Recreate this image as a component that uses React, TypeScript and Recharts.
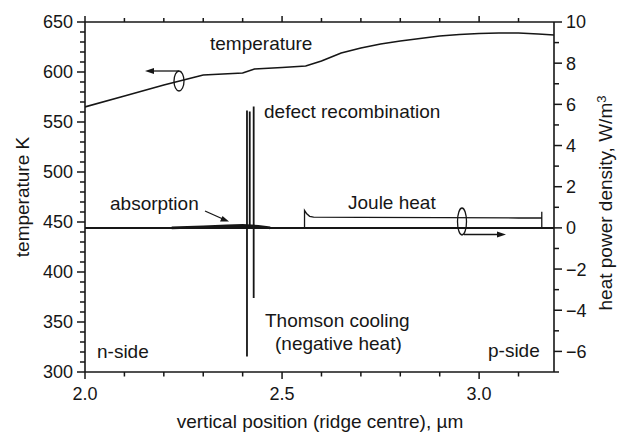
import React from 'react';
import { ComposedChart, Line, XAxis, YAxis } from 'recharts';

// ---- data ----
const positionT = [2.0, 2.1, 2.2, 2.28, 2.3, 2.4, 2.43, 2.5, 2.56, 2.6, 2.65, 2.7, 2.75, 2.8, 2.85, 2.9, 2.95, 3.0, 3.05, 3.1, 3.15, 3.19];
const temperatureK = [565, 576, 587, 595, 597, 599, 603, 604.5, 606, 611, 619, 624, 628, 631, 633.5, 636, 637.5, 638.5, 639, 639, 638, 637];

const positionBase = [2.0, 3.19];
const heatBase = [0, 0];

const positionAbsorption = [2.22, 2.3, 2.36, 2.4, 2.44, 2.47];
const absorptionHeat = [0, 0.05, 0.1, 0.12, 0.08, 0];

const positionDefect = [2.411, 2.411, 2.411, 2.418, 2.418, 2.418, 2.428, 2.428, 2.428];
const defectHeat = [0, 5.7, 0, 0, 5.65, 0, 0, 5.9, 0];

const positionThomson = [2.411, 2.411, 2.411, 2.428, 2.428, 2.428];
const thomsonHeat = [0, -6.25, 0, 0, -3.4, 0];

const positionJoule = [2.557, 2.557, 2.562, 2.57, 2.58, 2.7, 2.9, 3.1, 3.159, 3.159, 3.159];
const jouleHeat = [0, 0.85, 0.7, 0.56, 0.52, 0.51, 0.5, 0.48, 0.48, 0.78, 0];

const xTicks = [2.0, 2.1, 2.2, 2.3, 2.4, 2.5, 2.6, 2.7, 2.8, 2.9, 3.0, 3.1];
const xMajorTicks = [2.0, 2.5, 3.0];
const leftTicks = [300, 310, 320, 330, 340, 350, 360, 370, 380, 390, 400, 410, 420, 430, 440, 450, 460, 470, 480, 490, 500, 510, 520, 530, 540, 550, 560, 570, 580, 590, 600, 610, 620, 630, 640, 650];
const leftMajorTicks = [300, 350, 400, 450, 500, 550, 600, 650];
const rightTicks = [-7, -6, -5, -4, -3, -2, -1, 0, 1, 2, 3, 4, 5, 6, 7, 8, 9, 10];
const rightMajorTicks = [-6, -4, -2, 0, 2, 4, 6, 8, 10];

const zip = (xs: number[], ys: number[]) => xs.map((x, i) => ({ x, y: ys[i] }));

const tempData = zip(positionT, temperatureK);
const baseData = zip(positionBase, heatBase);
const absData = zip(positionAbsorption, absorptionHeat);
const defectData = zip(positionDefect, defectHeat);
const thomsonData = zip(positionThomson, thomsonHeat);
const jouleData = zip(positionJoule, jouleHeat);

const FONT = '"Liberation Sans", Arial, Helvetica, sans-serif';
const INK = '#161616';
const TW = 1.5;

const isMajor = (list: number[], v: number) => list.some((m) => Math.abs(m - v) < 1e-6);

const BottomTick = (props: any) => {
  const { x, y, payload } = props;
  const v = payload.value;
  const major = isMajor(xMajorTicks, v);
  return (
    <g>
      <line x1={x} x2={x} y1={y} y2={y + (major ? 7 : 4.5)} stroke={INK} strokeWidth={TW} />
      {major && (
        <text x={x} y={y + 28} textAnchor="middle" fontFamily={FONT} fontSize={18} fill={INK}>
          {v.toFixed(1)}
        </text>
      )}
    </g>
  );
};

const TopTick = (props: any) => {
  const { x, y, payload } = props;
  const major = isMajor(xMajorTicks, payload.value);
  return <line x1={x} x2={x} y1={y} y2={y - (major ? 6 : 4)} stroke={INK} strokeWidth={TW} />;
};

const LeftTick = (props: any) => {
  const { x, y, payload } = props;
  const v = payload.value;
  const major = isMajor(leftMajorTicks, v);
  return (
    <g>
      <line x1={x - (major ? 8 : 5)} x2={x} y1={y} y2={y} stroke={INK} strokeWidth={TW} />
      {major && (
        <text x={x - 12} y={y} dy="0.36em" textAnchor="end" fontFamily={FONT} fontSize={18} fill={INK}>
          {v}
        </text>
      )}
    </g>
  );
};

const RightTick = (props: any) => {
  const { x, y, payload } = props;
  const v = payload.value;
  const major = isMajor(rightMajorTicks, v);
  return (
    <g>
      <line x1={x} x2={x + (major ? 8 : 5)} y1={y} y2={y} stroke={INK} strokeWidth={TW} />
      {major && (
        <text x={x + 12} y={y} dy="0.36em" textAnchor="start" fontFamily={FONT} fontSize={18} fill={INK}>
          {v < 0 ? '\u2212' + Math.abs(v) : String(v)}
        </text>
      )}
    </g>
  );
};

const txt = { fontFamily: FONT, fontSize: 19, fill: INK } as const;

export default function App() {
  return (
    <div style={{ position: 'fixed', left: 0, top: 0, width: 625, height: 432, background: '#fff' }}>
      <ComposedChart width={625} height={432} margin={{ top: 21, right: 0, bottom: 0, left: 0 }}>
        <XAxis xAxisId="bottom" dataKey="x" type="number" domain={[2.0, 3.19]} ticks={xTicks} interval={0} height={60} tickSize={0} tickMargin={0} tickLine={false} axisLine={{ stroke: INK, strokeWidth: 1.6 }} tick={<BottomTick />} allowDataOverflow />
        <XAxis xAxisId="top" orientation="top" dataKey="x" type="number" domain={[2.0, 3.19]} ticks={xTicks} interval={0} height={1} tickSize={0} tickMargin={0} tickLine={false} axisLine={{ stroke: INK, strokeWidth: 1.6 }} tick={<TopTick />} allowDataOverflow />
        <YAxis yAxisId="left" type="number" domain={[300, 650]} ticks={leftTicks} interval={0} width={85} tickSize={0} tickMargin={0} tickLine={false} axisLine={{ stroke: INK, strokeWidth: 1.6 }} tick={<LeftTick />} allowDataOverflow />
        <YAxis yAxisId="right" orientation="right" type="number" domain={[-7, 10]} ticks={rightTicks} interval={0} width={71} tickSize={0} tickMargin={0} tickLine={false} axisLine={{ stroke: INK, strokeWidth: 1.6 }} tick={<RightTick />} allowDataOverflow />
        <Line xAxisId="bottom" yAxisId="right" data={baseData} dataKey="y" type="linear" stroke={INK} strokeWidth={2} dot={false} activeDot={false} isAnimationActive={false} />
        <Line xAxisId="bottom" yAxisId="right" data={absData} dataKey="y" type="linear" stroke={INK} strokeWidth={2.6} dot={false} activeDot={false} isAnimationActive={false} />
        <Line xAxisId="bottom" yAxisId="right" data={jouleData} dataKey="y" type="linear" stroke={INK} strokeWidth={1.3} dot={false} activeDot={false} isAnimationActive={false} />
        <Line xAxisId="bottom" yAxisId="right" data={defectData} dataKey="y" type="linear" stroke={INK} strokeWidth={1.8} dot={false} activeDot={false} isAnimationActive={false} />
        <Line xAxisId="bottom" yAxisId="right" data={thomsonData} dataKey="y" type="linear" stroke={INK} strokeWidth={1.8} dot={false} activeDot={false} isAnimationActive={false} />
        <Line xAxisId="bottom" yAxisId="left" data={tempData} dataKey="y" type="linear" stroke={INK} strokeWidth={1.7} dot={false} activeDot={false} isAnimationActive={false} />
      </ComposedChart>
      <svg width={625} height={432} style={{ position: 'absolute', left: 0, top: 0, pointerEvents: 'none' }}>
        <text x={22} y={197} dy="0.35em" textAnchor="middle" transform="rotate(-90 22 197)" {...txt}>
          temperature K
        </text>
        <text x={605} y={203} dy="0.35em" textAnchor="middle" transform="rotate(-90 605 203)" {...txt}>
          heat power density, W/m<tspan dy="-0.45em" fontSize={13}>3</tspan>
        </text>
        <text x={320} y={428} textAnchor="middle" {...txt}>
          vertical position (ridge centre), {'\u00b5'}m
        </text>
        <text x={210} y={50} {...txt}>temperature</text>
        <ellipse cx={179} cy={81} rx={5} ry={10} fill="none" stroke={INK} strokeWidth={1.3} />
        <line x1={179} y1={71} x2={151} y2={71} stroke={INK} strokeWidth={1.3} />
        <polygon points="145,71 154,68 154,74" fill={INK} />
        <text x={264} y={118} {...txt}>defect recombination</text>
        <text x={110} y={210} {...txt}>absorption</text>
        <line x1={205} y1={211} x2={224} y2={219.5} stroke={INK} strokeWidth={1.3} />
        <polygon points="229,221.5 220,221.5 222.5,216" fill={INK} />
        <text x={348} y={209} {...txt}>Joule heat</text>
        <ellipse cx={462} cy={221.5} rx={4.5} ry={13.5} fill="none" stroke={INK} strokeWidth={1.3} />
        <line x1={464} y1={234.5} x2={500} y2={234.5} stroke={INK} strokeWidth={1.3} />
        <polygon points="506,234.5 497,231.5 497,237.5" fill={INK} />
        <text x={265} y={327} {...txt}>Thomson cooling</text>
        <text x={275} y={350} {...txt}>(negative heat)</text>
        <text x={97} y={358} {...txt}>n-side</text>
        <text x={488} y={357} {...txt}>p-side</text>
      </svg>
    </div>
  );
}
